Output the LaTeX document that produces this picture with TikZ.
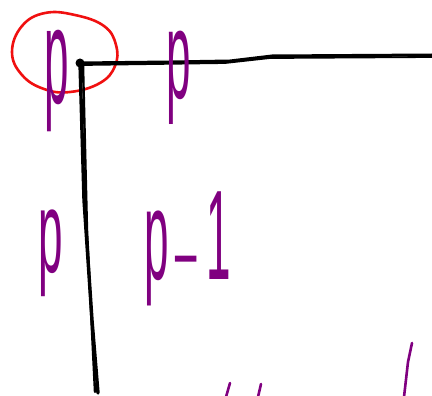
\documentclass[tikz,border=0pt]{standalone}
\usepackage{fontspec}
\setmainfont{Liberation Sans}
\usepackage{graphicx}
\definecolor{pen}{HTML}{800080}
\definecolor{redpen}{HTML}{F01010}
\begin{document}
\begin{tikzpicture}[x=1pt,y=-1pt,
  letter/.style={text=pen,inner sep=0pt,anchor=north west,font=\fontsize{44}{44}\selectfont},
  ink/.style={line width=3pt,line cap=round,line join=round},
  purpleink/.style={draw=pen,line width=2.6pt,line cap=round}]
\useasboundingbox (0,0) rectangle (432,396);
% red loop
\draw[redpen,ink,line width=2.6pt] plot[smooth cycle,tension=0.7] coordinates
  {(12,52) (22,26) (45,13) (75,15) (104,26) (116,45) (115,66) (100,83) (70,92) (44,89) (22,75)};
% black axes
\coordinate (corner) at (80,63);
\coordinate (right) at (432,55);
\coordinate (bottom) at (98,393);
\draw[ink] (corner) -- (170,62) -- (230,61) -- (272,56) -- (right);
\draw[ink,line width=1.8pt] (82,65) -- (225,63) -- (270,58) -- (432,57);
\draw[ink,line width=3.4pt] (corner) -- (84,200) -- (92,320) -- (bottom);
\draw[ink,line width=2.4pt] (83,64) -- (87,230) -- (95,392);
\fill (corner) circle (4.5);
% letters
\node[letter] (p1) at (44,30) {\scalebox{1}[3.1]{p}};
\node[letter] (p2) at (166,31) {\scalebox{1}[2.85]{p}};
\node[letter] (p3) at (38,210) {\scalebox{1}[2.65]{p}};
\node[letter] (p4) at (144,192) {\scalebox{1}[2.9]{p\hspace{3pt}\scalebox{2}[0.6]{-}\hspace{6pt}1}};
% cut-off strokes at the bottom
\draw[purpleink] (226,397) -- (230,383);
\draw[purpleink] (258,397) -- (261,384);
\draw[purpleink] (404,397) -- (408,362) -- (412,343);
\end{tikzpicture}
\end{document}
